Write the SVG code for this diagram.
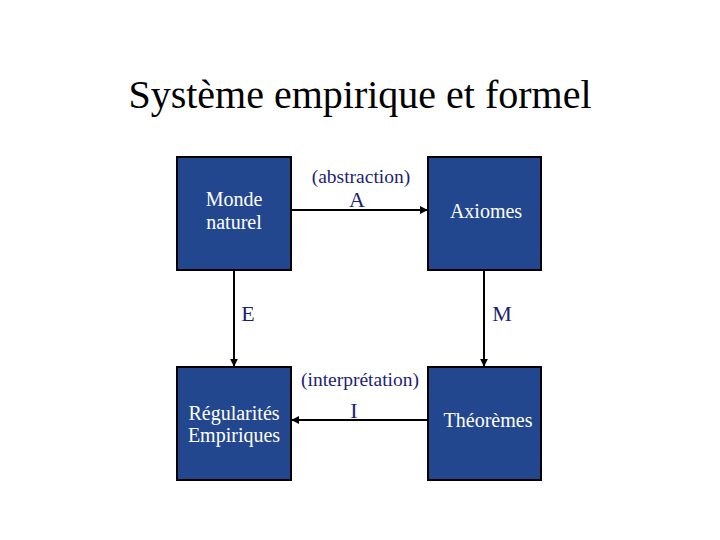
<svg xmlns="http://www.w3.org/2000/svg" width="720" height="540" viewBox="0 0 720 540">
<defs>
<style>
.box{fill:#23478F;stroke:#000;stroke-width:2}
.bt{font-family:"Liberation Serif","Times New Roman",serif;font-size:20px;fill:#FFFFFF;text-anchor:middle}
.lbl{font-family:"Liberation Serif","Times New Roman",serif;font-size:22px;fill:#1E1E78;text-anchor:middle}
.sub{font-family:"Liberation Serif","Times New Roman",serif;font-size:19.5px;fill:#1E1E78;text-anchor:middle}
.con{stroke:#000;stroke-width:2;fill:none;marker-end:url(#ah)}
</style>
<marker id="ah" viewBox="0 0 10 10" refX="9" refY="5" markerWidth="4" markerHeight="4" orient="auto">
<path d="M0,0 L10,5 L0,10 z" fill="#000"/>
</marker>
</defs>
<rect width="720" height="540" fill="#fff"/>
<text x="360" y="108" font-family="'Liberation Serif','Times New Roman',serif" font-size="40" fill="#000" text-anchor="middle">Système empirique et formel</text>
<g id="connectors">
<line class="con" x1="291" y1="210" x2="427" y2="210"/>
<line class="con" x1="428" y1="420" x2="292" y2="420"/>
<line class="con" x1="234" y1="270" x2="234" y2="366"/>
<line class="con" x1="484" y1="270" x2="484" y2="366"/>
<text class="sub" x="361" y="183">(abstraction)</text>
<text class="lbl" x="357" y="207">A</text>
<text class="sub" x="360" y="386">(interprétation)</text>
<text class="lbl" x="354" y="418">I</text>
<text class="lbl" x="248" y="321">E</text>
<text class="lbl" x="502" y="321">M</text>
</g>
<g id="monde">
<rect class="box" x="177" y="157" width="114" height="113"/>
<text class="bt" x="234" y="206">Monde</text>
<text class="bt" x="234" y="229">naturel</text>
</g>
<g id="axiomes">
<rect class="box" x="428" y="157" width="113" height="113"/>
<text class="bt" x="486" y="218">Axiomes</text>
</g>
<g id="regularites">
<rect class="box" x="177" y="367" width="114" height="113"/>
<text class="bt" x="234" y="420">Régularités</text>
<text class="bt" x="234" y="442">Empiriques</text>
</g>
<g id="theoremes">
<rect class="box" x="428" y="367" width="113" height="113"/>
<text class="bt" x="488" y="427">Théorèmes</text>
</g>
</svg>
